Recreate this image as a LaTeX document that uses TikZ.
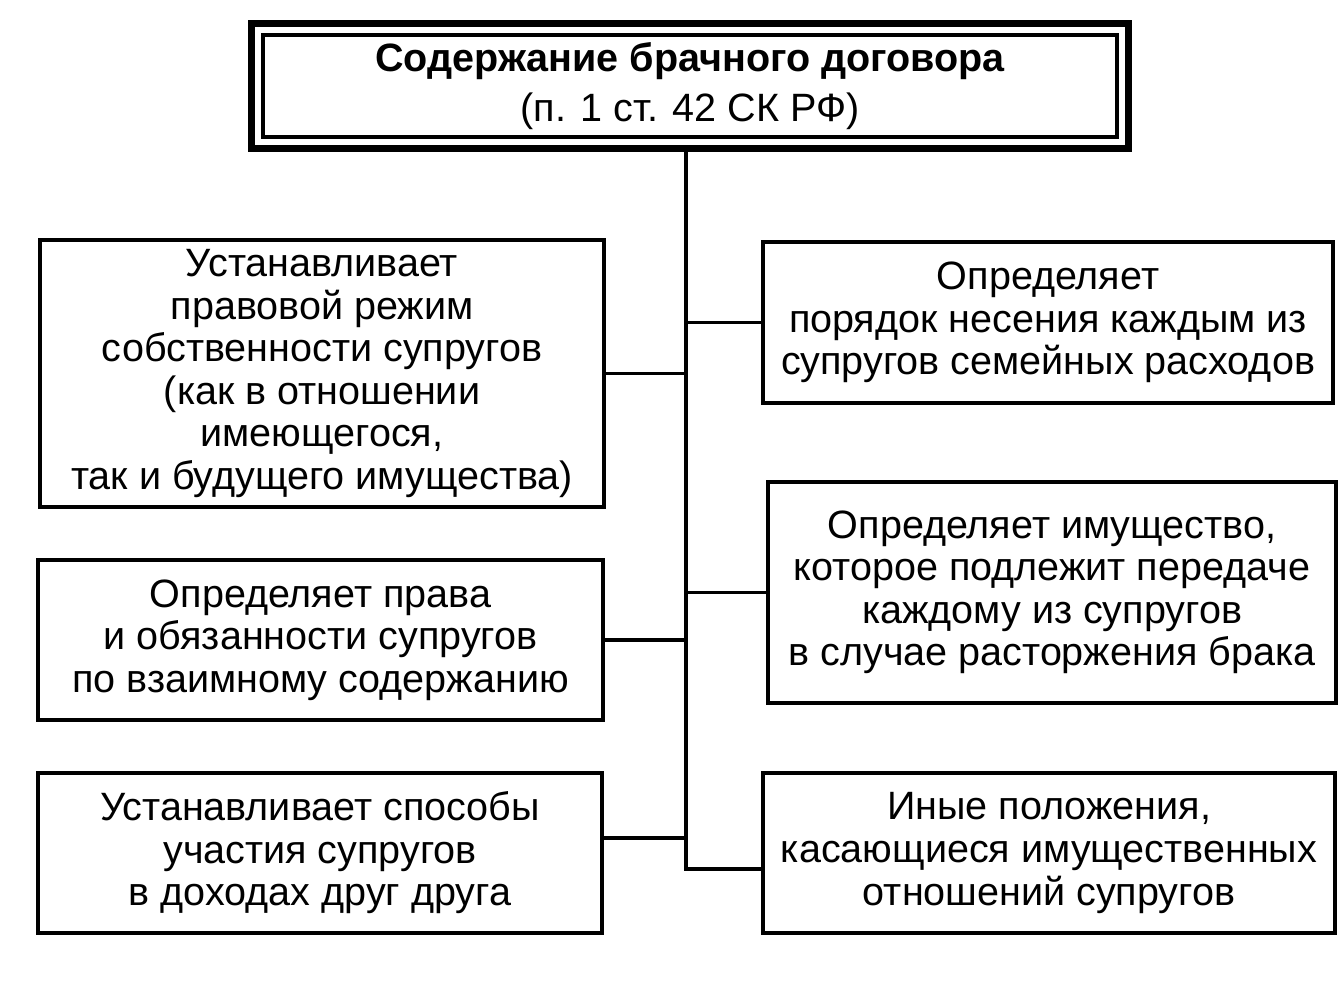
\documentclass[tikz,border=0pt]{standalone}
\usepackage{fontspec}
\setmainfont{Liberation Sans}
\usetikzlibrary{fit}
\begin{document}
\begin{tikzpicture}[x=0.02cm,y=-0.02cm,
    box/.style={draw,line width=2pt,align=center,inner sep=0pt,font=\fontsize{22.5}{24.2}\selectfont},
    link/.style={line width=2pt}]
    \useasboundingbox (0,0) rectangle (1340,998);
    \node[box,minimum width=17.08cm,minimum height=2.04cm] (top) at (690,86) {\textbf{Содержание брачного договора}\\[4pt](п. 1 ст. 42 СК РФ)};
    \node[draw,line width=4pt,fit=(top),inner sep=0.2cm] (frame) {};
    \node[box,minimum width=11.28cm,minimum height=5.34cm] (l1) at (322,373.5) {Устанавливает\\правовой режим\\собственности супругов\\(как в отношении\\имеющегося,\\так и будущего имущества)};
    \node[box,minimum width=11.3cm,minimum height=3.2cm] (l2) at (320.5,640) {Определяет права\\и обязанности супругов\\по взаимному содержанию};
    \node[box,minimum width=11.28cm,minimum height=3.2cm] (l3) at (320,853) {Устанавливает способы\\участия супругов\\в доходах друг друга};
    \node[box,minimum width=11.4cm,minimum height=3.22cm] (r1) at (1048,322.5) {Определяет\\порядок несения каждым из\\супругов семейных расходов};
    \node[box,minimum width=11.36cm,minimum height=4.42cm] (r2) at (1052,592.5) {Определяет имущество,\\которое подлежит передаче\\каждому из супругов\\в случае расторжения брака};
    \node[box,minimum width=11.44cm,minimum height=3.2cm] (r3) at (1049,853) {Иные положения,\\касающиеся имущественных\\отношений супругов};
    \coordinate (bot) at (686,869);
    \draw[link] (frame.south -| bot) -- (bot) -- (bot -| r3.west);
    \draw[link] (l1.east) -- (l1.east -| bot);
    \draw[link] (l2.east) -- (l2.east -| bot);
    \draw[link] ([yshift=0.3cm]l3.east) -- ([yshift=0.3cm]l3.east -| bot);
    \draw[link] (bot |- r1.west) -- (r1.west);
    \draw[link] (bot |- r2.west) -- (r2.west);
\end{tikzpicture}
\end{document}
